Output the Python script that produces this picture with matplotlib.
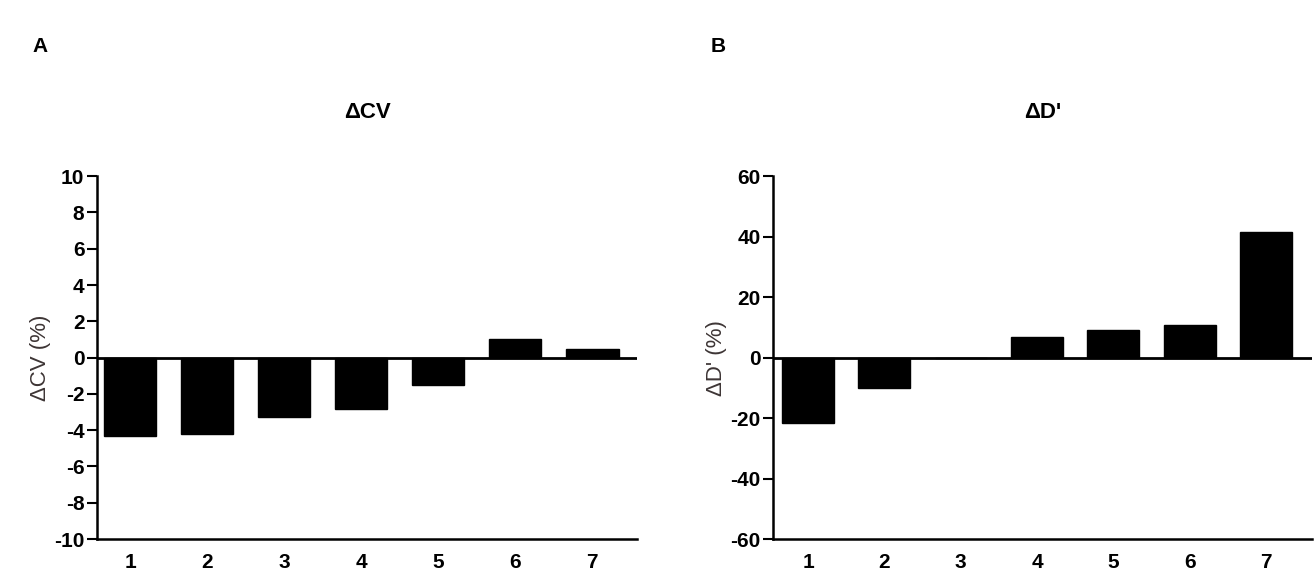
import numpy as np
import matplotlib.pyplot as plt

# data
groups = [1, 2, 3, 4, 5, 6, 7]
delta_cv = [-4.3, -4.2, -3.3, -2.85, -1.5, 1.0, 0.5]
delta_d = [-21.5, -10.0, 0.0, 6.8, 9.2, 10.8, 41.5]
cv_ticks = list(range(-10, 11, 2))
d_ticks = list(range(-60, 61, 20))

plt.rcParams['font.family'] = ['Liberation Sans', 'DejaVu Sans']
plt.rcParams['axes.unicode_minus'] = False

fig = plt.figure(figsize=(13.14, 5.76), dpi=100)
ax_a = fig.add_axes([0.0738, 0.0642, 0.411, 0.630])
ax_b = fig.add_axes([0.5883, 0.0642, 0.410, 0.630])

def style_panel(ax, vals, ticks, xlim, title, ylabel):
    ax.bar(groups, vals, width=0.68, color='black', edgecolor='black')
    ax.axhline(0, color='black', lw=2)
    ax.set_xlim(*xlim)
    ax.set_ylim(ticks[0], ticks[-1])
    ax.set_yticks(ticks)
    ax.set_xticks(groups)
    for s in ['top', 'right']:
        ax.spines[s].set_visible(False)
    for s in ['left', 'bottom']:
        ax.spines[s].set_linewidth(1.8)
    ax.tick_params(axis='y', direction='out', length=7, width=1.5, labelsize=15, pad=2)
    ax.tick_params(axis='x', length=0, pad=10, labelsize=15)
    for lab in ax.get_xticklabels() + ax.get_yticklabels():
        lab.set_fontweight('bold')
    t = ax.set_title(title, fontsize=16, fontweight='bold', pad=42)
    t.set_x(0.5)
    ax.set_ylabel(ylabel, fontsize=16, color='#3d3535', labelpad=2)

style_panel(ax_a, delta_cv, cv_ticks, (0.57, 7.58), 'ΔCV', 'ΔCV (%)')
style_panel(ax_b, delta_d, d_ticks, (0.54, 7.6), "ΔD'", "ΔD' (%)")

fig.text(40 / 1314, 1 - 47 / 576, 'A', fontsize=15, fontweight='bold',
         ha='center', va='center')
fig.text(718 / 1314, 1 - 47 / 576, 'B', fontsize=15, fontweight='bold',
         ha='center', va='center')

fig.savefig('out.png', dpi=100)
